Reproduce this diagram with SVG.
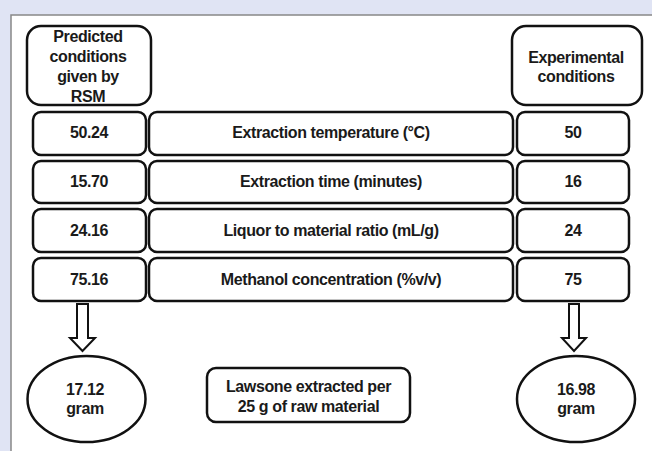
<svg xmlns="http://www.w3.org/2000/svg" width="652" height="451" viewBox="0 0 652 451">
<style>
.b{fill:#fff;stroke:#111;stroke-width:2.5}
text{font-family:"Liberation Sans",Arial,sans-serif;font-weight:bold;font-size:16px;fill:#1a1a1a;text-anchor:middle;letter-spacing:-0.4px}
.ar{fill:#fff;stroke:#111;stroke-width:2}
</style>
<rect x="0" y="0" width="652" height="451" fill="#e0e4f4"/>
<rect x="11" y="15" width="645" height="440" fill="#fff" stroke="#888" stroke-width="1.5"/>
<g id="hdr-predicted"><rect class="b" x="27" y="26" width="124" height="79" rx="14"/>
<text x="88" y="42">Predicted</text><text x="88" y="62">conditions</text><text x="88" y="82">given by</text><text x="88" y="102">RSM</text></g>
<g id="hdr-experimental"><rect class="b" x="512" y="26" width="130" height="79" rx="14"/>
<text x="576" y="63">Experimental</text><text x="576" y="82">conditions</text></g>
<g id="row1">
<g id="p1"><rect class="b" x="33" y="112" width="113" height="43" rx="8"/><text x="89" y="138">50.24</text></g>
<g id="m1"><rect class="b" x="149" y="112" width="364" height="43" rx="8"/><text x="331" y="138">Extraction temperature (°C)</text></g>
<g id="e1"><rect class="b" x="517" y="112" width="112" height="43" rx="8"/><text x="573" y="138">50</text></g>
</g>
<g id="row2">
<g id="p2"><rect class="b" x="33" y="161" width="113" height="42" rx="8"/><text x="89" y="187">15.70</text></g>
<g id="m2"><rect class="b" x="149" y="161" width="364" height="42" rx="8"/><text x="331" y="187">Extraction time (minutes)</text></g>
<g id="e2"><rect class="b" x="517" y="161" width="112" height="42" rx="8"/><text x="573" y="187">16</text></g>
</g>
<g id="row3">
<g id="p3"><rect class="b" x="33" y="209" width="113" height="43" rx="8"/><text x="89" y="236">24.16</text></g>
<g id="m3"><rect class="b" x="149" y="209" width="364" height="43" rx="8"/><text x="331" y="236">Liquor to material ratio (mL/g)</text></g>
<g id="e3"><rect class="b" x="517" y="209" width="112" height="43" rx="8"/><text x="573" y="236">24</text></g>
</g>
<g id="row4">
<g id="p4"><rect class="b" x="33" y="258" width="113" height="43" rx="8"/><text x="89" y="285">75.16</text></g>
<g id="m4"><rect class="b" x="149" y="258" width="364" height="43" rx="8"/><text x="331" y="285">Methanol concentration (%v/v)</text></g>
<g id="e4"><rect class="b" x="517" y="258" width="112" height="43" rx="8"/><text x="573" y="285">75</text></g>
</g>
<g id="connectors">
<path class="ar" d="M77,304 H88 V338 H95 L82.5,351 L70,338 H77 Z"/>
<path class="ar" d="M569,304 H579 V338 H586 L574,351 L562,338 H569 Z"/>
</g>
<g id="res-predicted"><ellipse class="b" cx="86.5" cy="399" rx="59" ry="43"/><text x="85" y="395">17.12</text><text x="85" y="414">gram</text></g>
<g id="res-label"><rect class="b" x="207" y="368" width="203" height="54" rx="9"/><text x="308.5" y="392">Lawsone extracted per</text><text x="308.5" y="412">25 g of raw material</text></g>
<g id="res-experimental"><ellipse class="b" cx="576" cy="399" rx="59" ry="43"/><text x="576" y="395">16.98</text><text x="576" y="414">gram</text></g>
</svg>
